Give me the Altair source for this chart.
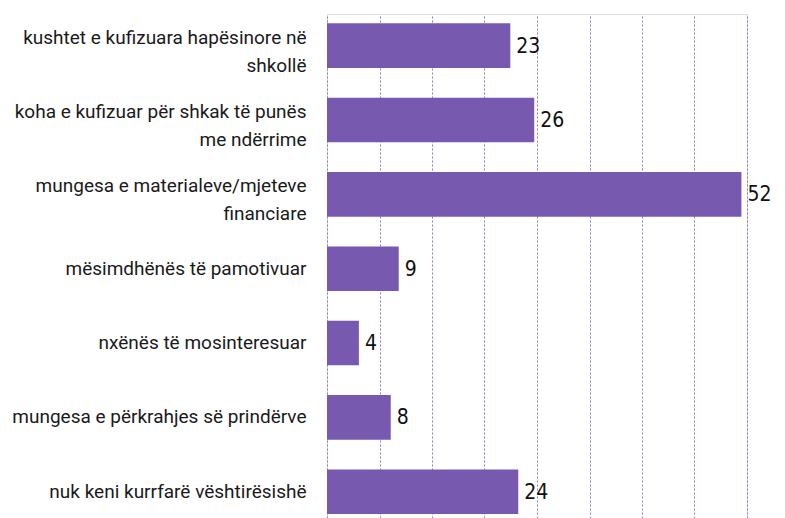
import altair as alt
import pandas as pd

categories = [
    "kushtet e kufizuara hapësinore në|shkollë",
    "koha e kufizuar për shkak të punës|me ndërrime",
    "mungesa e materialeve/mjeteve|financiare",
    "mësimdhënës të pamotivuar",
    "nxënës të mosinteresuar",
    "mungesa e përkrahjes së prindërve",
    "nuk keni kurrfarë vështirësishë",
]
values = [23, 26, 52, 9, 4, 8, 24]
grid_ticks = [0, 6.59, 13.18, 19.76, 26.35, 32.94, 39.53, 46.11, 52.7]

df = pd.DataFrame({"cat": categories, "val": values})

y_enc = alt.Y(
    "cat:N",
    sort=categories,
    title=None,
    scale=alt.Scale(paddingInner=0.4, paddingOuter=0.09, align=0.7),
    axis=alt.Axis(
        domain=False,
        ticks=False,
        grid=False,
        labelExpr="split(datum.label, '|')",
        labelFont="Roboto",
        labelFontSize=19,
        labelColor="#1a1a1a",
        labelLineHeight=28,
        labelPadding=21,
        labelLimit=400,
        labelOffset={
            "condition": {"test": "indexof(datum.value, '|') >= 0", "value": -8},
            "value": 0,
        },
    ),
)

x_enc = alt.X(
    "val:Q",
    title=None,
    scale=alt.Scale(domain=[0, 52.7], nice=False, zero=True),
    axis=alt.Axis(
        values=grid_ticks,
        labels=False,
        ticks=False,
        domain=False,
        grid=True,
        gridColor="#8d78c8",
        gridDash=[2, 2],
        gridWidth=1,
    ),
)

bars = alt.Chart(df).mark_bar(color="#775AAF").encode(x=x_enc, y=y_enc)

labels = alt.Chart(df).mark_text(
    align="left",
    baseline="middle",
    dx=6,
    dy=1,
    font="DejaVu Sans Condensed, Roboto, sans-serif",
    fontSize=21,
    color="#111111",
).encode(x="val:Q", y=alt.Y("cat:N", sort=categories), text="val:Q")

chart = (
    alt.layer(bars, labels)
    .properties(width=420, height=504, padding={"left": 3, "top": 6, "right": 5, "bottom": 0})
    .configure_view(stroke=None)
    .configure(background="white")
)

chart.save("out.html", embed_options={"renderer": "svg", "actions": False})
